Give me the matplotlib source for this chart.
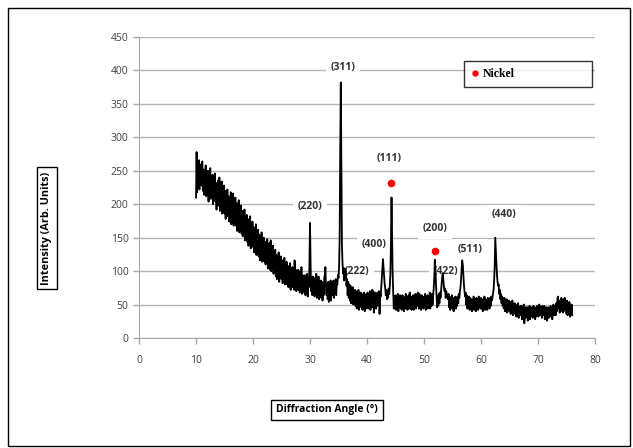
import numpy as np
import matplotlib.pyplot as plt
from matplotlib.patches import Rectangle

# XRD scan, 0.1 deg steps from 10.0 to 76.0, one row per degree
start_angle = 10.0
step = 0.1
intensity_rows = [
    [210, 278, 218, 262, 230, 266, 222, 254, 232, 260],  # 10
    [228, 264, 220, 252, 214, 248, 226, 258, 212, 246],  # 11
    [218, 250, 204, 240, 220, 254, 208, 238, 216, 244],  # 12
    [200, 236, 208, 246, 204, 232, 192, 228, 206, 236],  # 13
    [198, 240, 190, 226, 202, 234, 186, 224, 196, 228],  # 14
    [186, 220, 178, 214, 190, 222, 182, 212, 174, 210],  # 15
    [184, 218, 170, 206, 180, 216, 168, 204, 178, 210],  # 16
    [168, 202, 160, 194, 170, 206, 158, 190, 164, 198],  # 17
    [156, 190, 152, 182, 160, 192, 146, 180, 154, 184],  # 18
    [144, 178, 138, 172, 148, 182, 134, 168, 142, 174],  # 19
    [136, 166, 128, 160, 134, 170, 124, 156, 132, 162],  # 20
    [122, 154, 116, 148, 126, 158, 114, 146, 120, 150],  # 21
    [114, 144, 110, 140, 116, 148, 104, 136, 112, 142],  # 22
    [102, 146, 100, 134, 108, 138, 96, 130, 104, 132],   # 23
    [92, 124, 88, 120, 98, 128, 84, 118, 94, 122],       # 24
    [88, 116, 82, 112, 90, 120, 80, 110, 86, 114],       # 25
    [80, 108, 76, 104, 84, 112, 72, 102, 78, 106],       # 26
    [76, 104, 72, 116, 80, 102, 70, 98, 74, 102],        # 27
    [72, 100, 68, 94, 74, 106, 66, 94, 70, 92],          # 28
    [68, 94, 64, 90, 70, 96, 62, 88, 76, 110],           # 29
    [172, 112, 70, 90, 64, 92, 68, 86, 62, 90],          # 30
    [66, 96, 60, 88, 68, 92, 58, 84, 64, 86],            # 31
    [60, 84, 56, 82, 64, 90, 94, 106, 76, 64],           # 32
    [80, 58, 84, 54, 78, 60, 86, 56, 82, 64],            # 33
    [80, 86, 60, 84, 66, 88, 64, 84, 80, 94],            # 34
    [90, 106, 150, 280, 382, 250, 140, 112, 96, 104],    # 35
    [86, 104, 92, 100, 78, 88, 64, 84, 60, 80],          # 36
    [56, 78, 52, 74, 54, 76, 50, 70, 52, 72],            # 37
    [48, 70, 44, 66, 50, 72, 42, 66, 48, 68],            # 38
    [46, 66, 42, 64, 48, 68, 40, 64, 44, 66],            # 39
    [48, 68, 44, 64, 46, 70, 42, 64, 46, 72],            # 40
    [46, 70, 38, 66, 50, 68, 44, 64, 48, 68],            # 41
    [50, 70, 36, 66, 62, 76, 88, 102, 118, 106],         # 42
    [92, 80, 74, 64, 72, 58, 70, 60, 74, 66],            # 43
    [78, 96, 144, 210, 156, 96, 66, 44, 62, 44],         # 44
    [64, 42, 60, 46, 66, 40, 62, 48, 64, 44],            # 45
    [60, 42, 64, 46, 62, 40, 58, 44, 66, 46],            # 46
    [62, 42, 58, 64, 44, 68, 46, 62, 42, 60],            # 47
    [46, 64, 42, 60, 46, 66, 44, 62, 48, 68],            # 48
    [60, 44, 66, 48, 62, 42, 64, 46, 60, 44],            # 49
    [62, 46, 66, 42, 60, 48, 64, 44, 62, 46],            # 50
    [68, 44, 62, 48, 66, 50, 64, 74, 90, 117],           # 51
    [104, 80, 64, 46, 62, 48, 66, 52, 68, 60],           # 52
    [72, 82, 92, 97, 86, 76, 70, 74, 60, 70],            # 53
    [64, 60, 58, 66, 46, 62, 42, 60, 46, 64],            # 54
    [44, 60, 40, 58, 46, 62, 44, 58, 48, 62],            # 55
    [52, 66, 60, 70, 76, 88, 104, 116, 110, 94],         # 56
    [80, 70, 62, 68, 50, 64, 44, 60, 46, 62],            # 57
    [42, 60, 44, 58, 40, 56, 46, 62, 42, 58],            # 58
    [56, 40, 60, 44, 58, 42, 62, 46, 58, 44],            # 59
    [60, 44, 58, 40, 56, 46, 62, 42, 58, 46],            # 60
    [56, 42, 60, 46, 58, 44, 60, 48, 62, 56],            # 61
    [60, 66, 72, 86, 108, 150, 132, 112, 94, 84],        # 62
    [78, 80, 66, 72, 58, 66, 52, 62, 48, 60],            # 63
    [44, 60, 40, 56, 42, 58, 38, 54, 42, 56],            # 64
    [40, 54, 36, 52, 38, 56, 34, 50, 38, 52],            # 65
    [36, 50, 32, 48, 36, 52, 30, 46, 34, 48],            # 66
    [34, 48, 28, 46, 32, 50, 22, 44, 30, 46],            # 67
    [32, 46, 26, 44, 30, 48, 28, 42, 46, 32],            # 68
    [44, 30, 48, 34, 46, 28, 44, 32, 48, 34],            # 69
    [46, 32, 50, 36, 48, 34, 46, 30, 48, 36],            # 70
    [34, 48, 28, 44, 32, 46, 26, 42, 46, 30],            # 71
    [44, 32, 48, 34, 46, 28, 44, 50, 34, 46],            # 72
    [48, 34, 52, 40, 58, 62, 44, 56, 38, 52],            # 73
    [40, 60, 44, 56, 38, 58, 42, 60, 40, 54],            # 74
    [36, 56, 34, 52, 38, 54, 32, 50, 36, 50],            # 75
    [34],                                                # 76.0
]

# Nickel reflections (red dots)
nickel_x = [44.2, 51.9]
nickel_y = [232, 130]

# peak labels and where they sit
peak_labels = ['(311)', '(111)', '(220)', '(400)', '(222)', '(200)', '(422)', '(511)', '(440)']
label_x = [35.8, 43.9, 30.0, 41.3, 38.2, 51.9, 53.9, 58.1, 64.0]
label_y = [405, 269, 196, 140, 100, 163, 100, 132, 184]

intensity = np.concatenate([np.array(r, dtype=float) for r in intensity_rows])
angle = start_angle + step * np.arange(len(intensity))

fig = plt.figure(figsize=(6.33, 4.48), dpi=100)
ax = fig.add_axes([0.2196, 0.2455, 0.7204, 0.6719])

ax.plot(angle, intensity, color='black', lw=1.3, zorder=3)
ax.plot(nickel_x, nickel_y, 'o', color='red', ms=4.5, label='Nickel', zorder=4)

for lab, lx, ly in zip(peak_labels, label_x, label_y):
    ax.text(lx, ly, lab, ha='center', va='center', fontsize=7.5, fontweight='bold',
            color='#333333', family='Open Sans',
            bbox=dict(facecolor='white', edgecolor='none', pad=3.5), zorder=2)

ax.set_xlim(0, 80)
ax.set_ylim(0, 450)
ax.set_xticks(range(0, 81, 10))
ax.set_yticks(range(0, 451, 50))
ax.grid(axis='y', color='#b5b5b5', lw=1.0, zorder=0)
ax.set_axisbelow(True)
for s in ['top', 'right']:
    ax.spines[s].set_visible(False)
for s in ['left', 'bottom']:
    ax.spines[s].set_color('#a8a8a8')
ax.tick_params(axis='both', colors='#a8a8a8', labelcolor='#404040', labelsize=7.5,
               length=4, width=1)
ax.tick_params(axis='x', pad=8)
for t in ax.get_xticklabels() + ax.get_yticklabels():
    t.set_family('Open Sans')

leg = ax.legend(loc='lower left', bbox_to_anchor=(0.713, 0.834, 0.281, 0.08), mode='expand',
                frameon=True, fancybox=False, edgecolor='black', handlelength=0.6,
                handletextpad=0.4, borderpad=0.6, borderaxespad=0, markerscale=0.8,
                prop={'family': 'Liberation Serif', 'weight': 'bold', 'size': 8.5})
leg.get_frame().set_linewidth(1.0)

fig.text(0.0742, 0.491, 'Intensity (Arb. Units)', rotation=90, ha='center', va='center',
         fontsize=7.8, fontweight='bold', family='Open Sans',
         bbox=dict(facecolor='white', edgecolor='black', pad=3, lw=1))
fig.text(0.5166, 0.085, 'Diffraction Angle (°)', ha='center', va='center',
         fontsize=7.5, fontweight='bold', family='Open Sans',
         bbox=dict(facecolor='white', edgecolor='black', pad=3.5, lw=1))

fig.patches.append(Rectangle((0.013, 0.005), 0.982, 0.977, transform=fig.transFigure,
                             fill=False, edgecolor='black', lw=1.0))

fig.savefig('out.png', dpi=100)
